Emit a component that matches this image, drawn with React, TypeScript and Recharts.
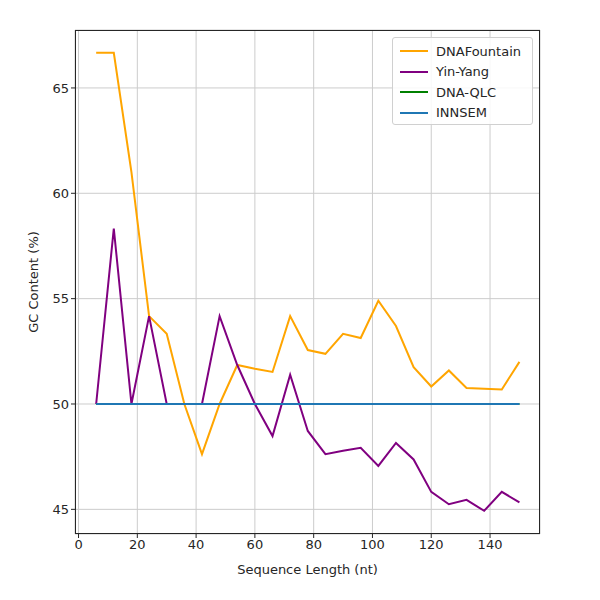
import { LineChart, Line, XAxis, YAxis, CartesianGrid } from 'recharts'

const lengths = [6, 12, 18, 24, 30, 36, 42, 48, 54, 60, 66, 72, 78, 84, 90, 96, 102, 108, 114, 120, 126, 132, 138, 144, 150]
const dnaFountain = [66.67, 66.67, 61.0, 54.17, 53.33, 50, 47.62, 50, 51.85, 51.67, 51.52, 54.17, 52.56, 52.38, 53.33, 53.13, 54.9, 53.7, 51.75, 50.83, 51.59, 50.76, 50.72, 50.69, 52.0]
const yinYang = [50, 58.33, 50, 54.17, 50, 50, 50, 54.17, 51.85, 50, 48.48, 51.39, 48.72, 47.62, 47.78, 47.92, 47.06, 48.15, 47.37, 45.83, 45.24, 45.45, 44.93, 45.83, 45.33]
const dnaQlc = lengths.map(() => 50)
const innsem = lengths.map(() => 50)
const xTicks = [0, 20, 40, 60, 80, 100, 120, 140]
const yTicks = [45, 50, 55, 60, 65]

const data = lengths.map((len, i) => ({
  len,
  fountain: dnaFountain[i],
  yinyang: yinYang[i],
  qlc: dnaQlc[i],
  innsem: innsem[i],
}))

const series = [
  { key: 'fountain', name: 'DNAFountain', color: '#ffa500' },
  { key: 'yinyang', name: 'Yin-Yang', color: '#800080' },
  { key: 'qlc', name: 'DNA-QLC', color: '#008000' },
  { key: 'innsem', name: 'INNSEM', color: '#1f77b4' },
]

const tick = { fontSize: 13, fill: '#262626' }

export default function App() {
  return (
    <div style={{ position: 'relative', width: 592, height: 584, fontFamily: 'DejaVu Sans' }}>
      <LineChart width={592} height={584} data={data} margin={{ top: 22, right: 60, bottom: 18, left: 17 }}>
        <CartesianGrid stroke="#cccccc" />
        <XAxis
          dataKey="len"
          type="number"
          domain={[-1.2, 157]}
          ticks={xTicks}
          tick={tick}
          tickLine={{ stroke: '#262626' }}
          tickSize={4}
          axisLine={false}
          height={40}
          allowDataOverflow
          label={{ value: 'Sequence Length (nt)', position: 'insideBottom', offset: 0, fontSize: 13, fill: '#262626' }}
        />
        <YAxis
          type="number"
          domain={[43.83, 67.75]}
          ticks={yTicks}
          tick={tick}
          tickLine={{ stroke: '#262626' }}
          tickSize={4}
          axisLine={false}
          width={50}
          allowDataOverflow
          label={{ value: 'GC Content (%)', angle: -90, position: 'insideLeft', offset: 8, fontSize: 13, fill: '#262626', style: { textAnchor: 'middle' } }}
        />
        {series.map((s) => (
          <Line key={s.key} dataKey={s.key} name={s.name} stroke={s.color} strokeWidth={2} dot={false} isAnimationActive={false} />
        ))}
      </LineChart>
      <div style={{ position: 'absolute', left: 67, top: 22, width: 465, height: 504, border: '1px solid #262626', boxSizing: 'border-box', pointerEvents: 'none' }} />
      <div style={{ position: 'absolute', left: 384, top: 29, width: 141, height: 88, background: 'rgba(255,255,255,0.85)', border: '1px solid #d0d0d0', borderRadius: 3, boxSizing: 'border-box', padding: '3px 7px', fontSize: 13, color: '#262626' }}>
        {series.map((s) => (
          <div key={s.key} style={{ display: 'flex', alignItems: 'center', height: 20.5 }}>
            <div style={{ width: 28, height: 2, background: s.color, marginRight: 8 }} />
            {s.name}
          </div>
        ))}
      </div>
    </div>
  )
}
